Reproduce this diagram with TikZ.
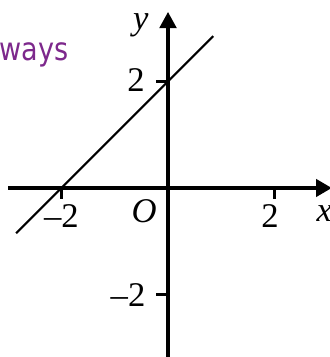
\documentclass[tikz,border=0pt]{standalone}
\usepackage{fontspec}
\setmainfont{Liberation Serif}
\newfontfamily\handfont{DejaVu Sans}
\usetikzlibrary{calc}
\definecolor{handpurple}{RGB}{125,40,140}
\begin{document}
\begin{tikzpicture}[
  axis/.style={line width=1.8pt},
  graphline/.style={line width=1.1pt},
  lbl/.style={font=\fontsize{18.5}{22}\selectfont, inner sep=0pt},
  arrowhead/.style={fill=black, draw=none}
]
\useasboundingbox (-3.152,-3.171) rectangle (3.039,3.527);
% axes
\coordinate (xl) at (-3.0,0);
\coordinate (xb) at (2.78,0);
\coordinate (xt) at (3.07,0);
\coordinate (yb) at (0,-3.3);
\coordinate (ybase) at (0,3.0);
\coordinate (yt) at (0,3.30);
\draw[axis] (xl) -- (xb);
\draw[axis] (yb) -- (ybase);
\fill[arrowhead] (xt) -- ($(xb)+(0,0.17)$) -- ($(xb)+(0,-0.17)$) -- cycle;
\fill[arrowhead] (yt) -- ($(ybase)+(0.165,0)$) -- ($(ybase)+(-0.165,0)$) -- cycle;
% ticks
\coordinate (tx1) at (-2,0);
\coordinate (tx2) at (2,0);
\coordinate (ty1) at (0,2);
\coordinate (ty2) at (0,-2);
\draw[axis] (tx1) -- ++(0,-0.2);
\draw[axis] (tx2) -- ++(0,-0.2);
\draw[axis] (ty1) -- ++(-0.22,0);
\draw[axis] (ty2) -- ++(-0.22,0);
% line y = x + 2
\coordinate (la) at (-2.85,-0.85);
\coordinate (lb) at (0.85,2.85);
\draw[graphline] (la) -- (lb);
% labels
\node[lbl] (lxm2) at (-2.0,-0.53) {\textendash2};
\node[lbl] (lo) at (-0.45,-0.44) {\itshape O};
\node[lbl] (lx2) at (1.914,-0.53) {2};
\node[lbl, anchor=west] (lx) at (2.78,-0.48) {\itshape x};
\node[lbl] (ly) at (-0.51,3.06) {\itshape y};
\node[lbl] (ly2) at (-0.60,2.02) {2};
\node[lbl] (lym2) at (-0.75,-2.0) {\textendash2};
\node[font=\handfont\fontsize{17}{20}\selectfont, text=handpurple, anchor=west, inner sep=0pt, xscale=0.85] (hw) at (-3.17,2.5) {ways};
\end{tikzpicture}
\end{document}
